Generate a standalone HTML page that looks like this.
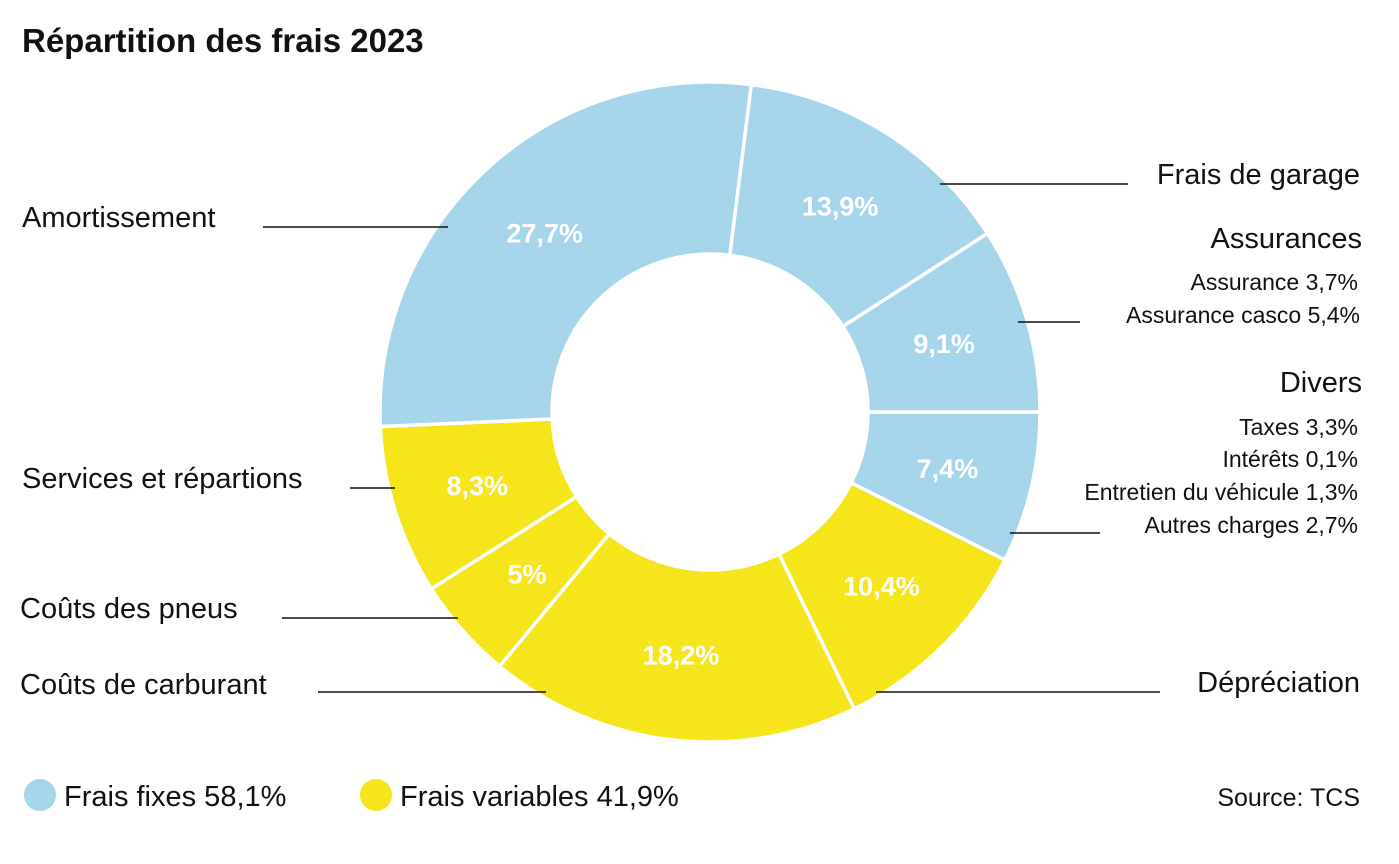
<!DOCTYPE html>
<html><head><meta charset="utf-8"><style>
body{margin:0;background:#fff;}
svg text{font-family:"Liberation Sans",sans-serif;}
</style></head><body>
<svg width="1399" height="859" viewBox="0 0 1399 859">
<text x="22" y="52" font-size="33" font-weight="bold" fill="#111">Répartition des frais 2023</text>
<g id="slices"></g>
<g id="lbls"></g>
<g stroke="#111" stroke-width="1.6">
<line x1="263" y1="227" x2="448" y2="227"/><line x1="940" y1="184" x2="1128" y2="184"/>
<line x1="1018" y1="322" x2="1080" y2="322"/><line x1="1010" y1="533" x2="1100" y2="533"/>
<line x1="876" y1="692" x2="1160" y2="692"/><line x1="350" y1="488" x2="395" y2="488"/>
<line x1="282" y1="618" x2="458" y2="618"/><line x1="318" y1="692" x2="546" y2="692"/>
</g>
<g font-size="29" fill="#111">
<text x="22" y="227">Amortissement</text>
<text x="1360" y="184" text-anchor="end">Frais de garage</text>
<text x="1362" y="248" text-anchor="end">Assurances</text>
<text x="1362" y="392" text-anchor="end">Divers</text>
<text x="22" y="488">Services et répartions</text>
<text x="20" y="618">Coûts des pneus</text>
<text x="20" y="694">Coûts de carburant</text>
<text x="1360" y="692" text-anchor="end">Dépréciation</text>
</g>
<g font-size="23" fill="#111" text-anchor="end">
<text x="1358" y="290">Assurance 3,7%</text>
<text x="1360" y="323">Assurance casco 5,4%</text>
<text x="1358" y="435">Taxes 3,3%</text>
<text x="1358" y="467">Intérêts 0,1%</text>
<text x="1358" y="500">Entretien du véhicule 1,3%</text>
<text x="1358" y="533">Autres charges 2,7%</text>
</g>
<circle cx="40" cy="795" r="16" fill="#a5d5ea"/>
<text x="64" y="806" font-size="29" fill="#111">Frais fixes 58,1%</text>
<circle cx="376" cy="795" r="16" fill="#f5e51a"/>
<text x="400" y="806" font-size="29" fill="#111">Frais variables 41,9%</text>
<text x="1360" y="806" font-size="25" fill="#111" text-anchor="end">Source: TCS</text>
</svg>
<script>
const categories=["Divers","Dépréciation","Carburant","Pneus","Services","Amortissement","Garage","Assurances"];
const values=[7.4,10.4,18.2,5,8.3,27.7,13.9,9.1];
const valueLabels=["7,4%","10,4%","18,2%","5%","8,3%","27,7%","13,9%","9,1%"];
const groups=["f","v","v","v","v","f","f","f"];
const cx=710,cy=412,R=330,r=158;
const col={f:"#a5d5ea",v:"#f5e51a"};
const total=values.reduce((a,b)=>a+b,0);
const ang=v=>v/total*2*Math.PI;
const sg=document.getElementById('slices'),lg=document.getElementById('lbls');
const NS="http://www.w3.org/2000/svg";
let a0=0;
values.forEach((v,i)=>{
 const a1=a0+ang(v),big=(a1-a0)>Math.PI?1:0;
 const p=(rad,a)=>[cx+rad*Math.cos(a),cy+rad*Math.sin(a)];
 const [x1,y1]=p(R,a0),[x2,y2]=p(R,a1),[x3,y3]=p(r,a1),[x4,y4]=p(r,a0);
 const path=document.createElementNS(NS,'path');
 path.setAttribute('d',`M${x1},${y1}A${R},${R} 0 ${big} 1 ${x2},${y2}L${x3},${y3}A${r},${r} 0 ${big} 0 ${x4},${y4}Z`);
 path.setAttribute('fill',col[groups[i]]);
 path.setAttribute('stroke','#fff');path.setAttribute('stroke-width','3.5');
 
 
 sg.appendChild(path);
 const am=(a0+a1)/2,[lx,ly]=p((R+r)/2,am);
 const t=document.createElementNS(NS,'text');
 t.setAttribute('x',lx);t.setAttribute('y',ly+10);
 t.setAttribute('text-anchor','middle');t.setAttribute('font-size','27');
 t.setAttribute('font-weight','bold');t.setAttribute('fill','#fff');
 t.textContent=valueLabels[i];
 
 
 lg.appendChild(t);
 a0=a1;
});
</script>
</body></html>
